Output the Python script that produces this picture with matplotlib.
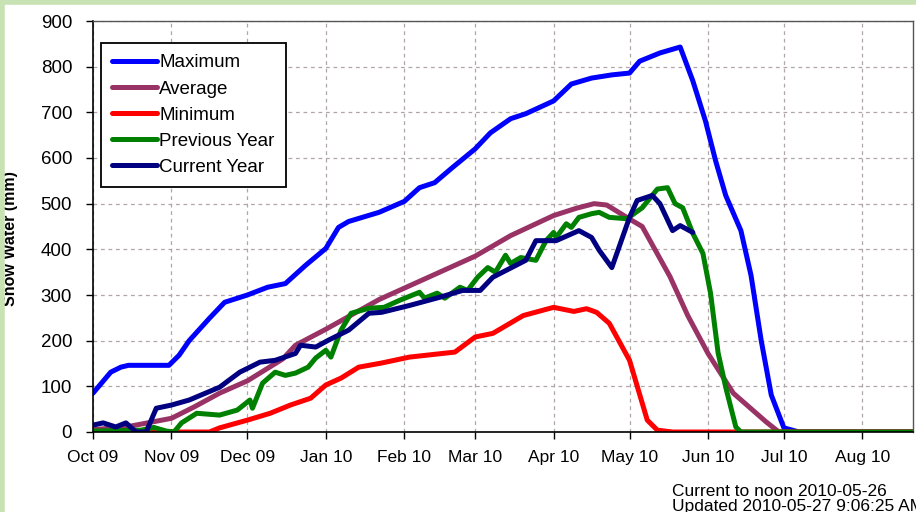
import matplotlib.pyplot as plt
import matplotlib.dates as mdates
from matplotlib.lines import Line2D
import pandas as pd

plt.rcParams['font.family'] = ['Liberation Sans', 'DejaVu Sans']

# Maximum
max_dates = ["2009-10-01", "2009-10-08", "2009-10-12", "2009-10-15", "2009-10-31",
             "2009-11-04", "2009-11-08", "2009-11-16", "2009-11-22", "2009-12-01",
             "2009-12-09", "2009-12-16", "2009-12-24", "2010-01-01", "2010-01-06",
             "2010-01-10", "2010-01-22", "2010-02-01", "2010-02-07", "2010-02-13",
             "2010-02-20", "2010-03-01", "2010-03-07", "2010-03-15", "2010-03-21",
             "2010-04-01", "2010-04-08", "2010-04-16", "2010-04-24", "2010-05-01",
             "2010-05-05", "2010-05-13", "2010-05-21", "2010-05-26", "2010-05-31",
             "2010-06-04", "2010-06-08", "2010-06-14", "2010-06-18", "2010-06-22",
             "2010-06-26", "2010-07-01", "2010-07-07", "2010-08-31"]
max_vals = [85, 131, 142, 146, 146,
            168, 200, 249, 284, 300,
            317, 325, 365, 402, 448,
            461, 481, 505, 535, 546,
            579, 620, 655, 686, 697,
            725, 762, 775, 782, 786,
            812, 830, 843, 769, 681,
            594, 518, 441, 343, 201,
            81, 9, 0, 0]

# Average
avg_dates = ["2009-10-01", "2009-10-15", "2009-11-01", "2009-11-10", "2009-11-20",
             "2009-12-01", "2009-12-15", "2009-12-20", "2010-01-01", "2010-01-22",
             "2010-02-01", "2010-03-01", "2010-03-15", "2010-04-01", "2010-04-10",
             "2010-04-17", "2010-04-22", "2010-05-02", "2010-05-06", "2010-05-17",
             "2010-05-24", "2010-06-01", "2010-06-11", "2010-06-24", "2010-06-29",
             "2010-08-31"]
avg_vals = [5, 12, 30, 55, 85,
            112, 160, 190, 225, 290,
            315, 385, 430, 474, 490,
            500, 497, 463, 450, 340,
            255, 172, 85, 22, 0,
            0]

# Minimum
min_dates = ["2009-10-01", "2009-11-16", "2009-11-20", "2009-12-01", "2009-12-10",
             "2009-12-18", "2009-12-26", "2010-01-01", "2010-01-07", "2010-01-14",
             "2010-01-23", "2010-02-03", "2010-02-21", "2010-03-01", "2010-03-08",
             "2010-03-20", "2010-04-01", "2010-04-09", "2010-04-14", "2010-04-18",
             "2010-04-23", "2010-05-01", "2010-05-08", "2010-05-12", "2010-05-18",
             "2010-08-31"]
min_vals = [0, 0, 9, 26, 41,
            59, 74, 103, 118, 142,
            151, 164, 175, 208, 216,
            255, 273, 264, 270, 262,
            238, 157, 26, 4, 0,
            0]

# Previous Year
prev_dates = ["2009-10-01", "2009-10-20", "2009-10-25", "2009-10-30", "2009-11-02",
              "2009-11-05", "2009-11-11", "2009-11-20", "2009-11-27", "2009-12-02",
              "2009-12-03", "2009-12-07", "2009-12-12", "2009-12-16", "2009-12-20",
              "2009-12-25", "2009-12-28", "2010-01-01", "2010-01-03", "2010-01-07",
              "2010-01-11", "2010-01-18", "2010-01-24", "2010-01-30", "2010-02-07",
              "2010-02-09", "2010-02-14", "2010-02-17", "2010-02-23", "2010-02-26",
              "2010-03-02", "2010-03-06", "2010-03-09", "2010-03-13", "2010-03-15",
              "2010-03-19", "2010-03-25", "2010-03-29", "2010-04-01", "2010-04-02",
              "2010-04-06", "2010-04-08", "2010-04-11", "2010-04-16", "2010-04-19",
              "2010-04-23", "2010-04-30", "2010-05-06", "2010-05-12", "2010-05-16",
              "2010-05-19", "2010-05-22", "2010-05-26", "2010-05-30", "2010-06-02",
              "2010-06-05", "2010-06-08", "2010-06-12", "2010-06-14", "2010-08-31"]
prev_vals = [2, 4, 10, 2, 0,
             20, 41, 37, 48, 70,
             52, 107, 131, 124, 129,
             142, 162, 179, 164, 223,
             260, 271, 273, 288, 306,
             293, 304, 293, 317, 310,
             339, 360, 350, 387, 369,
             382, 376, 419, 437, 426,
             456, 448, 470, 478, 481,
             470, 467, 491, 532, 535,
             500, 491, 435, 391, 304,
             173, 98, 11, 0, 0]

# Current Year
cur_dates = ["2009-10-01", "2009-10-05", "2009-10-10", "2009-10-14", "2009-10-18",
             "2009-10-22", "2009-10-26", "2009-11-01", "2009-11-08", "2009-11-20",
             "2009-11-28", "2009-12-06", "2009-12-12", "2009-12-20", "2009-12-22",
             "2009-12-28", "2010-01-02", "2010-01-10", "2010-01-18", "2010-01-23",
             "2010-02-03", "2010-02-15", "2010-02-24", "2010-03-03", "2010-03-08",
             "2010-03-21", "2010-03-25", "2010-04-02", "2010-04-11", "2010-04-16",
             "2010-04-19", "2010-04-24", "2010-05-01", "2010-05-04", "2010-05-10",
             "2010-05-13", "2010-05-18", "2010-05-21", "2010-05-26"]
cur_vals = [15, 20, 11, 20, 0,
            0, 52, 59, 70, 98,
            131, 153, 157, 172, 190,
            186, 201, 223, 260, 262,
            277, 295, 310, 310, 339,
            376, 419, 419, 441, 426,
            398, 360, 470, 507, 518,
            500, 441, 452, 437]

series = [
    ("Maximum", max_dates, max_vals, "#0000FF"),
    ("Average", avg_dates, avg_vals, "#993366"),
    ("Minimum", min_dates, min_vals, "#FF0000"),
    ("Previous Year", prev_dates, prev_vals, "#008000"),
    ("Current Year", cur_dates, cur_vals, "#000080"),
]

fig = plt.figure(figsize=(9.16, 5.12), dpi=100)
ax = fig.add_axes([93 / 916, 1 - 432 / 512, 820 / 916, 411 / 512])

for name, d, v, c in series:
    ax.plot(pd.to_datetime(d), v, color=c, lw=3.6, label=name,
            solid_capstyle="round", solid_joinstyle="round")

ax.set_xlim(pd.Timestamp("2009-10-01"), pd.Timestamp("2010-08-21"))
ax.set_ylim(0, 900)
ax.set_yticks(range(0, 901, 100))
ax.xaxis.set_major_locator(mdates.MonthLocator())
ax.xaxis.set_major_formatter(mdates.DateFormatter("%b %y"))

ax.grid(True, color="#b0a6a6", ls=(0, (3, 3)), lw=0.9)
ax.set_axisbelow(True)
ax.tick_params(axis="both", direction="out", length=5, width=1, color="black")
ax.tick_params(axis="x", labelsize=12.5, pad=8)
ax.tick_params(axis="y", labelsize=13.5, pad=10)
for s in ["left", "bottom"]:
    ax.spines[s].set_color("black")
    ax.spines[s].set_linewidth(1.2)
for s in ["top", "right"]:
    ax.spines[s].set_color("#555555")
    ax.spines[s].set_linewidth(1.0)

ax.set_ylabel("Snow Water (mm)", fontsize=11.5, fontweight="bold")
ax.yaxis.set_label_coords(-75 / 820, 0.47)

leg = ax.legend(loc="upper left", bbox_to_anchor=(8 / 820, 389 / 411), borderaxespad=0,
                fontsize=13.5, fancybox=False, edgecolor="black", framealpha=1,
                handlelength=2.4, handletextpad=0.1, labelspacing=0.48, borderpad=0.6)
leg.get_frame().set_linewidth(1.3)

fig.text(672 / 916, 16 / 512, "Current to noon 2010-05-26", fontsize=12.5, va="baseline")
fig.text(672 / 916, 1 / 512, "Updated 2010-05-27 9:06:25 AM", fontsize=12.5, va="baseline")

# light green page frame
fig.add_artist(Line2D([0, 1], [0.997, 0.997], transform=fig.transFigure, color="#c8e2b4", lw=4))
fig.add_artist(Line2D([0.002, 0.002], [0, 1], transform=fig.transFigure, color="#c8e2b4", lw=4))

fig.savefig("out.png", dpi=100)
